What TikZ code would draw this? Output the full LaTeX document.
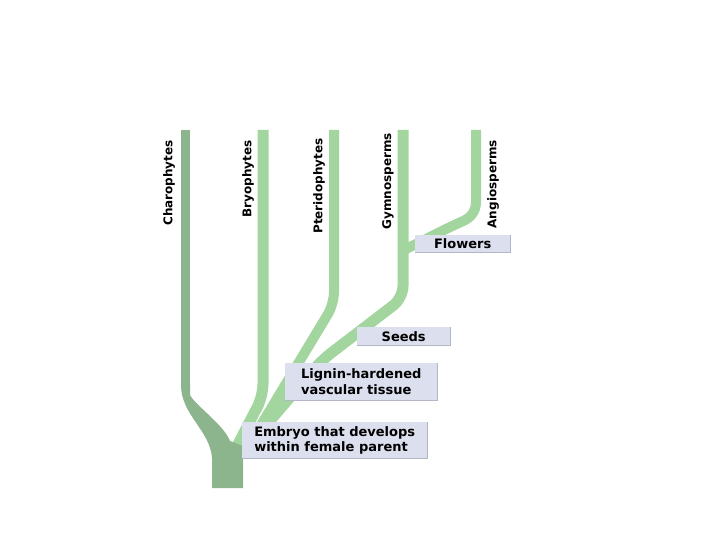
\documentclass[tikz,border=0pt]{standalone}
\usepackage{fontspec}
\setsansfont{DejaVu Sans}
\usetikzlibrary{positioning}
\definecolor{algagreen}{RGB}{141,181,141}
\definecolor{plantgreen}{RGB}{162,214,158}
\definecolor{traitfill}{RGB}{219,223,238}
\definecolor{traitedge}{RGB}{178,182,198}

\begin{document}
\begin{tikzpicture}[x=1pt,y=-1pt,
  branch/.style={draw=plantgreen,line width=11pt,line join=round,rounded corners=12pt},
  taxon/.style={rotate=90,anchor=east,inner sep=0pt,font=\sffamily\bfseries\fontsize{12}{14}\selectfont},
  trait/.style={fill=traitfill,anchor=north west,inner sep=2pt,font=\sffamily\bfseries\fontsize{13}{15.5}\selectfont}]
\path[fill=white,use as bounding box] (0,0) rectangle (720,540);
\coordinate (charTop) at (185,130);
\coordinate (bryoTop) at (263,130);
\coordinate (pterTop) at (334,130);
\coordinate (gymnTop) at (403,130);
\coordinate (angiTop) at (476,130);
\coordinate (base) at (230,441);
\draw[branch] (bryoTop) -- (263,396) -- (234,452);
\draw[branch,line width=10pt] (pterTop) -- (334,304) -- (255,435);
\draw[branch] (gymnTop) -- (403,298) -- (322,360) -- (262,430);
\draw[branch,line width=10pt] (angiTop) -- (476,190) .. controls (476,212) and (470,218) .. (452,226) -- (404,250);
\fill[algagreen] (181,385) .. controls (181,415) and (210,430) .. (212,458) -- (212,488) -- (243,488) -- (243,446) -- (base) .. controls (224,425) and (195,405) .. (190,395) -- (190,385) -- cycle;
\draw[algagreen,line width=9pt] (charTop) -- (185,388);
\node (flowers) [trait,minimum width=95pt,minimum height=17pt] at (415,235) {Flowers};
\node (seeds) [trait,minimum width=93pt,minimum height=18pt] at (357,327) {Seeds};
\node (lignin) [trait,minimum width=152pt,minimum height=37pt,align=left] at (285,363) {Lignin-hardened\\vascular tissue};
\node (embryo) [trait,minimum width=185pt,minimum height=36pt,align=left] at (242,422) {Embryo that develops\\within female parent};
\foreach \t in {flowers,seeds,lignin,embryo}
  \draw[traitedge,line width=1.5pt] (\t.north east) -- (\t.south east) -- (\t.south west);
\node (charophytes) [taxon] at (169,140) {Charophytes};
\node (bryophytes) [taxon] at (248,140) {Bryophytes};
\node (pteridophytes) [taxon] at (319,138) {Pteridophytes};
\node (gymnosperms) [taxon] at (388,133) {Gymnosperms};
\node (angiosperms) [taxon] at (493,140) {Angiosperms};
\end{tikzpicture}
\end{document}
